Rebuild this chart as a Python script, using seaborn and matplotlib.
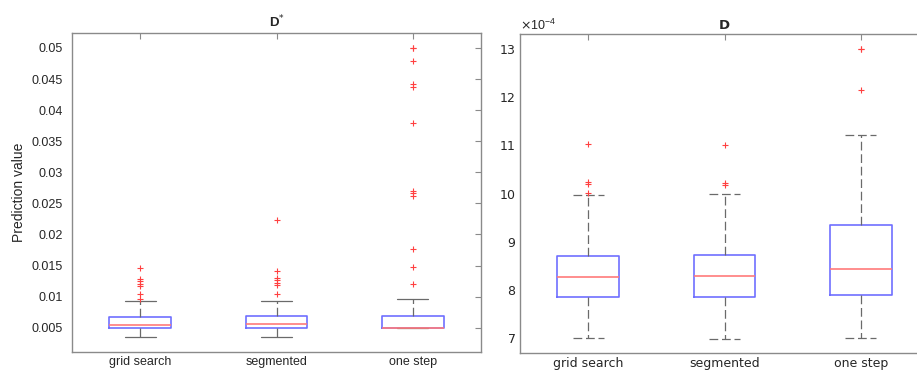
import matplotlib
matplotlib.use("Agg")
import matplotlib.pyplot as plt
import pandas as pd
import seaborn as sns
from matplotlib.ticker import FuncFormatter, ScalarFormatter, FixedLocator

methods = ["grid search", "segmented", "one step"]

# D* : five-number summary per method plus the flagged outliers
dstar_whislo = [0.00346, 0.00346, 0.00495]
dstar_q1 = [0.00490, 0.00490, 0.00495]
dstar_median = [0.00543, 0.00555, 0.00498]
dstar_q3 = [0.00672, 0.00683, 0.00688]
dstar_whishi = [0.00924, 0.00924, 0.00968]
dstar_outliers = [
    [0.0097, 0.0105, 0.0117, 0.0121, 0.0125, 0.0129, 0.0146],
    [0.0105, 0.0118, 0.0122, 0.0126, 0.0130, 0.0142, 0.0224],
    [0.0120, 0.0147, 0.0176, 0.0262, 0.0266, 0.0270, 0.0379,
     0.0437, 0.0442, 0.0479, 0.0500, 0.0500],
]
dstar_ticks = [0.005, 0.010, 0.015, 0.020, 0.025, 0.030, 0.035, 0.040, 0.045, 0.050]

# D : same layout
d_whislo = [7.00e-4, 6.985e-4, 7.00e-4]
d_q1 = [7.863e-4, 7.86e-4, 7.898e-4]
d_median = [8.278e-4, 8.286e-4, 8.43e-4]
d_q3 = [8.714e-4, 8.72e-4, 9.357e-4]
d_whishi = [9.973e-4, 10.00e-4, 11.22e-4]
d_outliers = [
    [10.01e-4, 10.19e-4, 10.23e-4, 11.02e-4],
    [10.17e-4, 10.21e-4, 11.00e-4],
    [12.15e-4, 13.00e-4, 13.00e-4],
]
d_ticks = [7e-4, 8e-4, 9e-4, 10e-4, 11e-4, 12e-4, 13e-4]


def summary_frame(lo, q1, med, q3, hi, outliers, reps=40):
    """Long-form sample whose quartiles/whiskers reproduce the summary."""
    rows = []
    for i, m in enumerate(methods):
        vals = ([lo[i]] + [q1[i]] * reps + [med[i]] * reps + [q3[i]] * reps
                + [hi[i]] + list(outliers[i]))
        rows += [(m, v) for v in vals]
    return pd.DataFrame(rows, columns=["method", "value"])


df_dstar = summary_frame(dstar_whislo, dstar_q1, dstar_median, dstar_q3,
                         dstar_whishi, dstar_outliers)
df_d = summary_frame(d_whislo, d_q1, d_median, d_q3, d_whishi, d_outliers)

sns.set_theme(style="white")
plt.rcParams["font.family"] = ["Liberation Sans", "DejaVu Sans"]
plt.rcParams["axes.unicode_minus"] = True

BOX = "#6f6fff"
MED = "#ff7a7a"
WHISK = "#6a6a6a"
FLIER = "#ff4040"
SPINE = "#8a8a8a"
TEXT = "#262626"

fig = plt.figure(figsize=(9.17, 3.72), dpi=100)
ax1 = fig.add_axes([72 / 917, 20 / 372, 409 / 917, 319 / 372])
ax2 = fig.add_axes([520 / 917, 18.7 / 372, 409 / 917, 319 / 372])


def draw(ax, df, dashed_caps):
    dash = (0, (7, 3))
    sns.boxplot(
        data=df, x="method", y="value", order=methods, ax=ax,
        width=0.45, fill=False, whis=1.5, color=BOX,
        boxprops=dict(color=BOX, linewidth=1.2),
        medianprops=dict(color=MED, linewidth=1.2),
        whiskerprops=dict(color=WHISK, linewidth=0.9, linestyle=dash),
        capprops=dict(color=WHISK, linewidth=0.9,
                      linestyle=dash if dashed_caps else "-"),
        flierprops=dict(marker="+", markeredgecolor=FLIER, markerfacecolor=FLIER,
                        markersize=5, markeredgewidth=0.8),
    )
    ax.set_xlim(-0.5, 2.5)
    ax.set_xlabel("")
    for s in ax.spines.values():
        s.set_visible(True)
        s.set_color(SPINE)
        s.set_linewidth(1.0)
    ax.tick_params(direction="in", top=True, right=True, length=4, width=0.8,
                   color=SPINE, labelcolor=TEXT, labelsize=9)
    ax.tick_params(axis="x", pad=3)


# D* panel
draw(ax1, df_dstar, dashed_caps=False)
ax1.set_ylim(0.0011, 0.0524)
ax1.yaxis.set_major_locator(FixedLocator(dstar_ticks))
ax1.yaxis.set_major_formatter(FuncFormatter(lambda v, p: f"{v:g}"))
ax1.tick_params(axis="y", pad=6.5)
ax1.set_ylabel("Prediction value", fontsize=10, color=TEXT, labelpad=4)
ax1.set_title("D$^{*}$", fontsize=9.5, fontweight="bold", pad=4)

# D panel
draw(ax2, df_d, dashed_caps=True)
ax2.set_ylim(6.69e-4, 13.3e-4)
ax2.yaxis.set_major_locator(FixedLocator(d_ticks))
fmt = ScalarFormatter(useMathText=True, useOffset=False)
fmt.set_powerlimits((-4, -4))
ax2.yaxis.set_major_formatter(fmt)
ax2.tick_params(axis="y", pad=3)
ax2.tick_params(labelfontfamily="DejaVu Sans")
ax2.yaxis.get_offset_text().set_fontsize(9)
ax2.yaxis.get_offset_text().set_color(TEXT)
ax2.set_ylabel("")
ax2.set_title("D", fontsize=9.5, fontweight="bold", pad=4, family="DejaVu Sans")

fig.savefig("out.png", dpi=100)
